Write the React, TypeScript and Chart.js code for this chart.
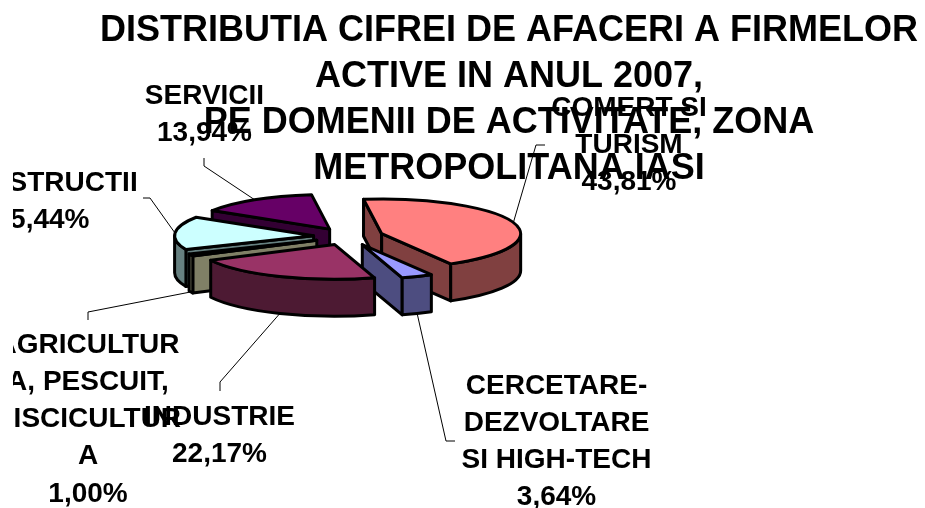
import React, { useEffect, useRef } from "react";
import { Chart, registerables } from "chart.js";

Chart.register(...registerables);

const categories = ["COMERT SI TURISM", "CERCETARE-DEZVOLTARE SI HIGH-TECH", "INDUSTRIE", "AGRICULTURA, PESCUIT, PISCICULTURA", "CONSTRUCTII", "SERVICII"];
const values = [43.81, 3.64, 22.17, 1.0, 15.44, 13.94];
const labelLines = [
  ["COMERT SI", "TURISM", "43,81%"],
  ["CERCETARE-", "DEZVOLTARE", "SI HIGH-TECH", "3,64%"],
  ["INDUSTRIE", "22,17%"],
  ["AGRICULTUR", "A, PESCUIT,", "PISCICULTUR", "A", "1,00%"],
  ["CONSTRUCTII", "15,44%"],
  ["SERVICII", "13,94%"],
];
const topColors = ["#FF8080", "#9999FF", "#993366", "#FFFFCC", "#CCFFFF", "#660066"];
const wallColors = ["#804040", "#4D4D80", "#4D1A33", "#808066", "#668080", "#330033"];
const titleLines = [
  "DISTRIBUTIA CIFREI DE AFACERI A FIRMELOR",
  "ACTIVE IN ANUL 2007,",
  "PE DOMENII DE ACTIVITATE, ZONA",
  "METROPOLITANA IASI",
];

// layout
const CX = 348.5, CY = 236.5, SQUASH = 0.25, DEPTH = 37, EXPLODE = 35, RADIUS = 139;
const paintOrder = [5, 4, 3, 0, 1, 2];
const labelAnchors = [
  { x: 629, y: 108 },
  { x: 556.5, y: 386 },
  { x: 219.5, y: 417 },
  { x: 88, y: 345 },
  { x: 42, y: 183 },
  { x: 204.5, y: 96 },
];
const labelStep = 37.2;
const leaderElbows = [
  [[536, 145], [545, 145]],
  [[446, 441], [455, 441]],
  [[220, 382], [220, 391]],
  [[88, 312], [88, 320]],
  [[150, 198], [143, 198]],
  [[204, 166], [204, 158]],
];

const pie3d = {
  id: "pie3d",
  beforeDatasetDraw(chart: any) {
    const ctx = chart.ctx;
    const arcs = chart.getDatasetMeta(0).data;
    for (const i of paintOrder) {
      const arc = arcs[i];
      const a0 = arc.startAngle, a1 = arc.endAngle, r = arc.outerRadius;
      const mid = (a0 + a1) / 2;
      const ax = CX + Math.cos(mid) * EXPLODE;
      const ay = CY + Math.sin(mid) * EXPLODE * SQUASH;
      const px = (t: number) => ax + Math.cos(t) * r;
      const py = (t: number) => ay + Math.sin(t) * r * SQUASH;
      ctx.save();
      ctx.lineWidth = 3;
      ctx.lineJoin = "round";
      ctx.strokeStyle = "#000";
      ctx.fillStyle = wallColors[i];
      const quad = (x1: number, y1: number, x2: number, y2: number) => {
        ctx.beginPath();
        ctx.moveTo(x1, y1);
        ctx.lineTo(x2, y2);
        ctx.lineTo(x2, y2 + DEPTH);
        ctx.lineTo(x1, y1 + DEPTH);
        ctx.closePath();
        ctx.fill();
        ctx.stroke();
      };
      if (px(a0) < ax) quad(ax, ay, px(a0), py(a0));
      if (px(a1) > ax) quad(px(a1), py(a1), ax, ay);
      // visible outer wall: the lower half of the rim
      for (const k of [-1, 0, 1]) {
        const lo = Math.max(a0, k * 2 * Math.PI);
        const hi = Math.min(a1, k * 2 * Math.PI + Math.PI);
        if (hi > lo) {
          ctx.beginPath();
          ctx.ellipse(ax, ay, r, r * SQUASH, 0, lo, hi);
          ctx.ellipse(ax, ay + DEPTH, r, r * SQUASH, 0, hi, lo, true);
          ctx.closePath();
          ctx.fill();
          ctx.stroke();
        }
      }
      // top face: the library's own arc element, flattened
      ctx.save();
      ctx.translate(ax, ay);
      ctx.scale(1, SQUASH);
      ctx.translate(-arc.x, -arc.y);
      arc.draw(ctx);
      ctx.restore();
      ctx.beginPath();
      ctx.moveTo(ax, ay);
      ctx.ellipse(ax, ay, r, r * SQUASH, 0, a0, a1);
      ctx.closePath();
      ctx.stroke();
      ctx.restore();
    }
    return false;
  },
  afterDatasetsDraw(chart: any) {
    const ctx = chart.ctx;
    const arcs = chart.getDatasetMeta(0).data;
    ctx.save();
    ctx.strokeStyle = "#000";
    ctx.lineWidth = 1;
    arcs.forEach((arc: any, i: number) => {
      const mid = (arc.startAngle + arc.endAngle) / 2;
      const ax = CX + Math.cos(mid) * EXPLODE;
      const ay = CY + Math.sin(mid) * EXPLODE * SQUASH;
      const sx = ax + Math.cos(mid) * arc.outerRadius;
      const sy = ay + Math.sin(mid) * arc.outerRadius * SQUASH + (Math.sin(mid) > 0.1 ? DEPTH : 0);
      ctx.beginPath();
      ctx.moveTo(sx, sy);
      for (const [x, y] of leaderElbows[i]) ctx.lineTo(x, y);
      ctx.stroke();
    });
    ctx.restore();
    ctx.save();
    ctx.beginPath();
    ctx.rect(13, 0, 912, 508);
    ctx.clip();
    ctx.fillStyle = "#000";
    ctx.font = "bold 28px 'Liberation Sans'";
    ctx.textAlign = "center";
    ctx.textBaseline = "middle";
    labelLines.forEach((lines, i) => {
      lines.forEach((line, j) => {
        ctx.fillText(line, labelAnchors[i].x, labelAnchors[i].y + j * labelStep);
      });
    });
    ctx.restore();
  },
};

export default function App() {
  const ref = useRef<HTMLCanvasElement>(null);
  useEffect(() => {
    const chart = new Chart(ref.current as HTMLCanvasElement, {
      type: "pie",
      data: {
        labels: categories,
        datasets: [{ data: values, backgroundColor: topColors, borderWidth: 0, clip: false } as any],
      },
      options: {
        responsive: false,
        animation: false,
        rotation: -7.5,
        radius: RADIUS,
        layout: { padding: { left: 93 } },
        plugins: {
          legend: { display: false },
          tooltip: { enabled: false },
          title: {
            display: true,
            text: titleLines,
            fullSize: false,
            color: "#000",
            font: { family: "'Liberation Sans'", size: 36, weight: "bold", lineHeight: 1.28 },
            padding: { top: 8, bottom: 0 },
          },
        },
      } as any,
      plugins: [pie3d],
    });
    return () => chart.destroy();
  }, []);
  return (
    <div style={{ position: "fixed", left: 0, top: 0, width: 925, height: 508, background: "#fff" }}>
      <canvas ref={ref} width={925} height={508} style={{ display: "block" }} />
    </div>
  );
}
